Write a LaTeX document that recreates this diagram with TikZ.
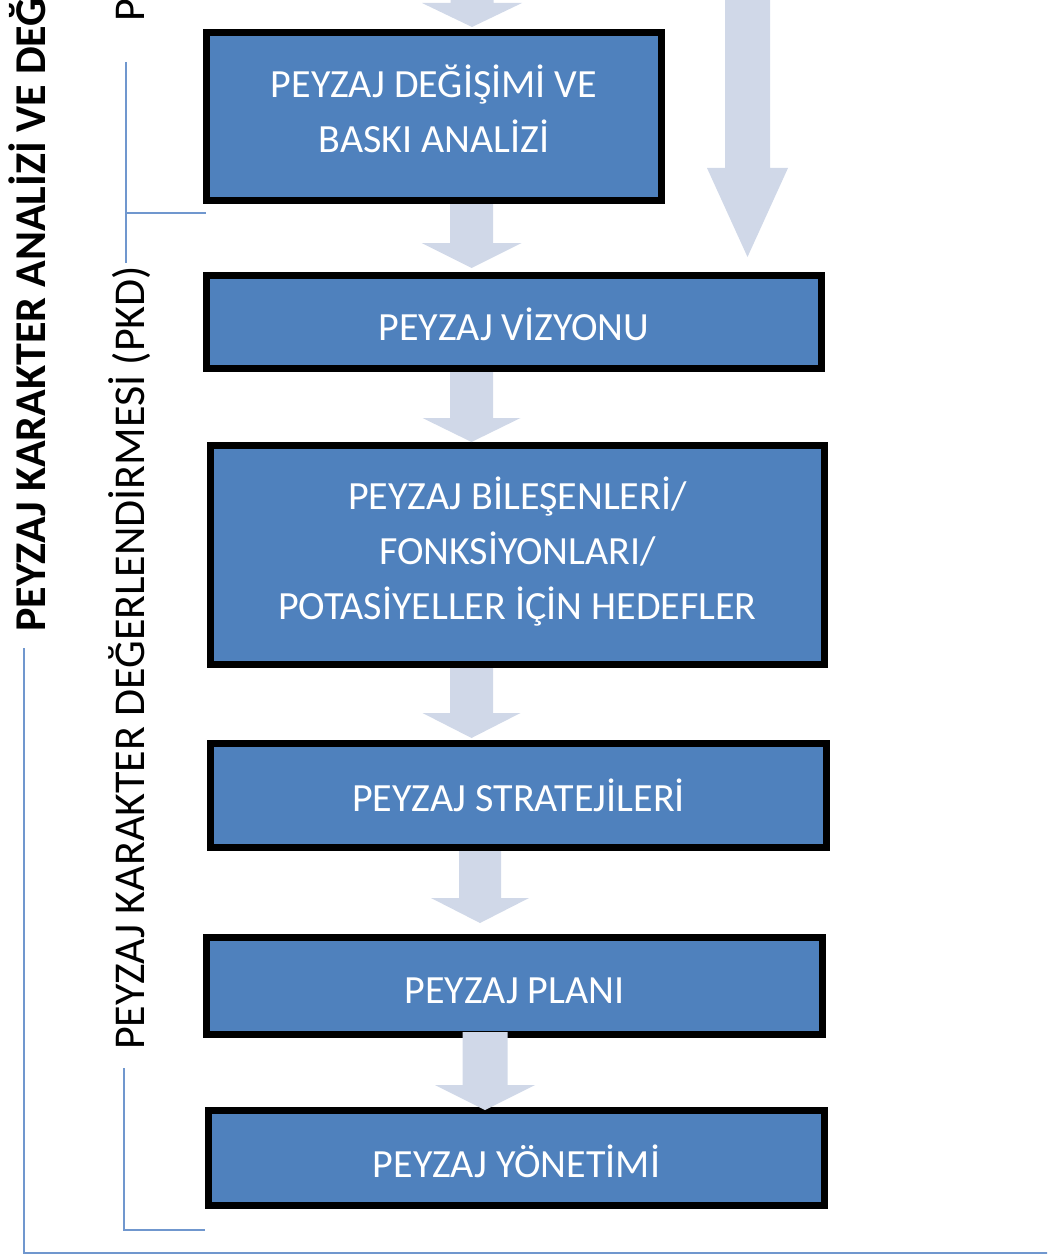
\documentclass[tikz,border=0pt]{standalone}
\usepackage{fontspec}
\setmainfont{Carlito}
\definecolor{boxblue}{HTML}{4F81BD}
\definecolor{arrowgray}{HTML}{D0D8E8}
\definecolor{brkblue}{HTML}{7097CE}
\newcommand{\blkarrow}[6]{%
  \fill[arrowgray] ({#1-#5},#2) -- ({#1+#5},#2) -- ({#1+#5},#3) -- ({#1+#6},#3)
    -- (#1,#4) -- ({#1-#6},#3) -- ({#1-#5},#3) -- cycle;}
\begin{document}
\begin{tikzpicture}[x=1pt,y=-1pt,
  stepbox/.style={draw=black, line width=7pt, fill=boxblue, inner sep=0pt},
  boxtext/.style={inner sep=0pt, text=white, font=\fontsize{40}{55}\selectfont, align=center},
  bracket/.style={draw=brkblue, line width=2.5pt},
  sidelabel/.style={rotate=90, anchor=west, inner sep=0pt, text=black}]
\useasboundingbox (0,0) rectangle (1047,1260);
\clip (0,0) rectangle (1047,1260);

% boxes
\node[stepbox, minimum width=455pt, minimum height=168pt] (b1) at (434,116.5) {};
\node[stepbox, minimum width=615pt, minimum height=93pt] (b2) at (514,322) {};
\node[stepbox, minimum width=614pt, minimum height=219pt] (b3) at (517.5,555) {};
\node[stepbox, minimum width=616pt, minimum height=104pt] (b4) at (518.5,795.5) {};
\node[stepbox, minimum width=616pt, minimum height=97pt] (b5) at (514.5,986) {};
\node[stepbox, minimum width=616pt, minimum height=95pt] (b6) at (516.5,1158) {};

\node[boxtext] (t1) at ([yshift=8pt]b1.center) {PEYZAJ DEĞİŞİMİ VE\\BASKI ANALİZİ};
\node[boxtext] (t2) at ([yshift=-2pt]b2.center) {PEYZAJ VİZYONU};
\node[boxtext] (t3) at ([yshift=3pt]b3.center)
  {PEYZAJ BİLEŞENLERİ/\\FONKSİYONLARI/\\POTASİYELLER İÇİN HEDEFLER};
\node[boxtext] (t4) at (b4.center) {PEYZAJ STRATEJİLERİ};
\node[boxtext] (t5) at ([yshift=-5pt]b5.center) {PEYZAJ PLANI};
\node[boxtext] (t6) at ([yshift=-3pt]b6.center) {PEYZAJ YÖNETİMİ};

% block arrows
\blkarrow{472}{-20}{3}{27}{21.5}{50}
\blkarrow{471.5}{204}{243}{268}{21.5}{50}
\blkarrow{747.5}{-10}{168}{257}{22.5}{40.5}
\blkarrow{471.5}{372}{418}{442}{21.5}{49}
\blkarrow{471.5}{668}{713}{738}{21.5}{49}
\blkarrow{480}{851}{898}{923}{21}{49}
\blkarrow{485}{1032}{1085}{1110}{22.5}{50}

% brackets
\coordinate (o1) at (24,648);
\coordinate (o2) at (1050,1253);
\draw[bracket] (o1) |- (o2);
\coordinate (p1) at (126,62);
\coordinate (p2) at (126,263);
\coordinate (p3) at (206,213);
\draw[bracket] (p1) -- (p2);
\draw[bracket] (p1 |- p3) -- (p3);
\coordinate (q1) at (124,1068);
\coordinate (q2) at (205,1230);
\draw[bracket] (q1) |- (q2);

% side labels
\node[sidelabel, font=\bfseries\fontsize{44}{44}\selectfont] (main) at (27,632)
  {PEYZAJ KARAKTER ANALİZİ VE DEĞERLENDİRMESİ};
\node[sidelabel, font=\fontsize{44}{44}\selectfont] (pkd) at (130,1050)
  {PEYZAJ KARAKTER DEĞERLENDİRMESİ (PKD)};
\node[sidelabel, font=\fontsize{44}{44}\selectfont] (pka) at (131,22)
  {PEYZAJ};
\end{tikzpicture}
\end{document}
